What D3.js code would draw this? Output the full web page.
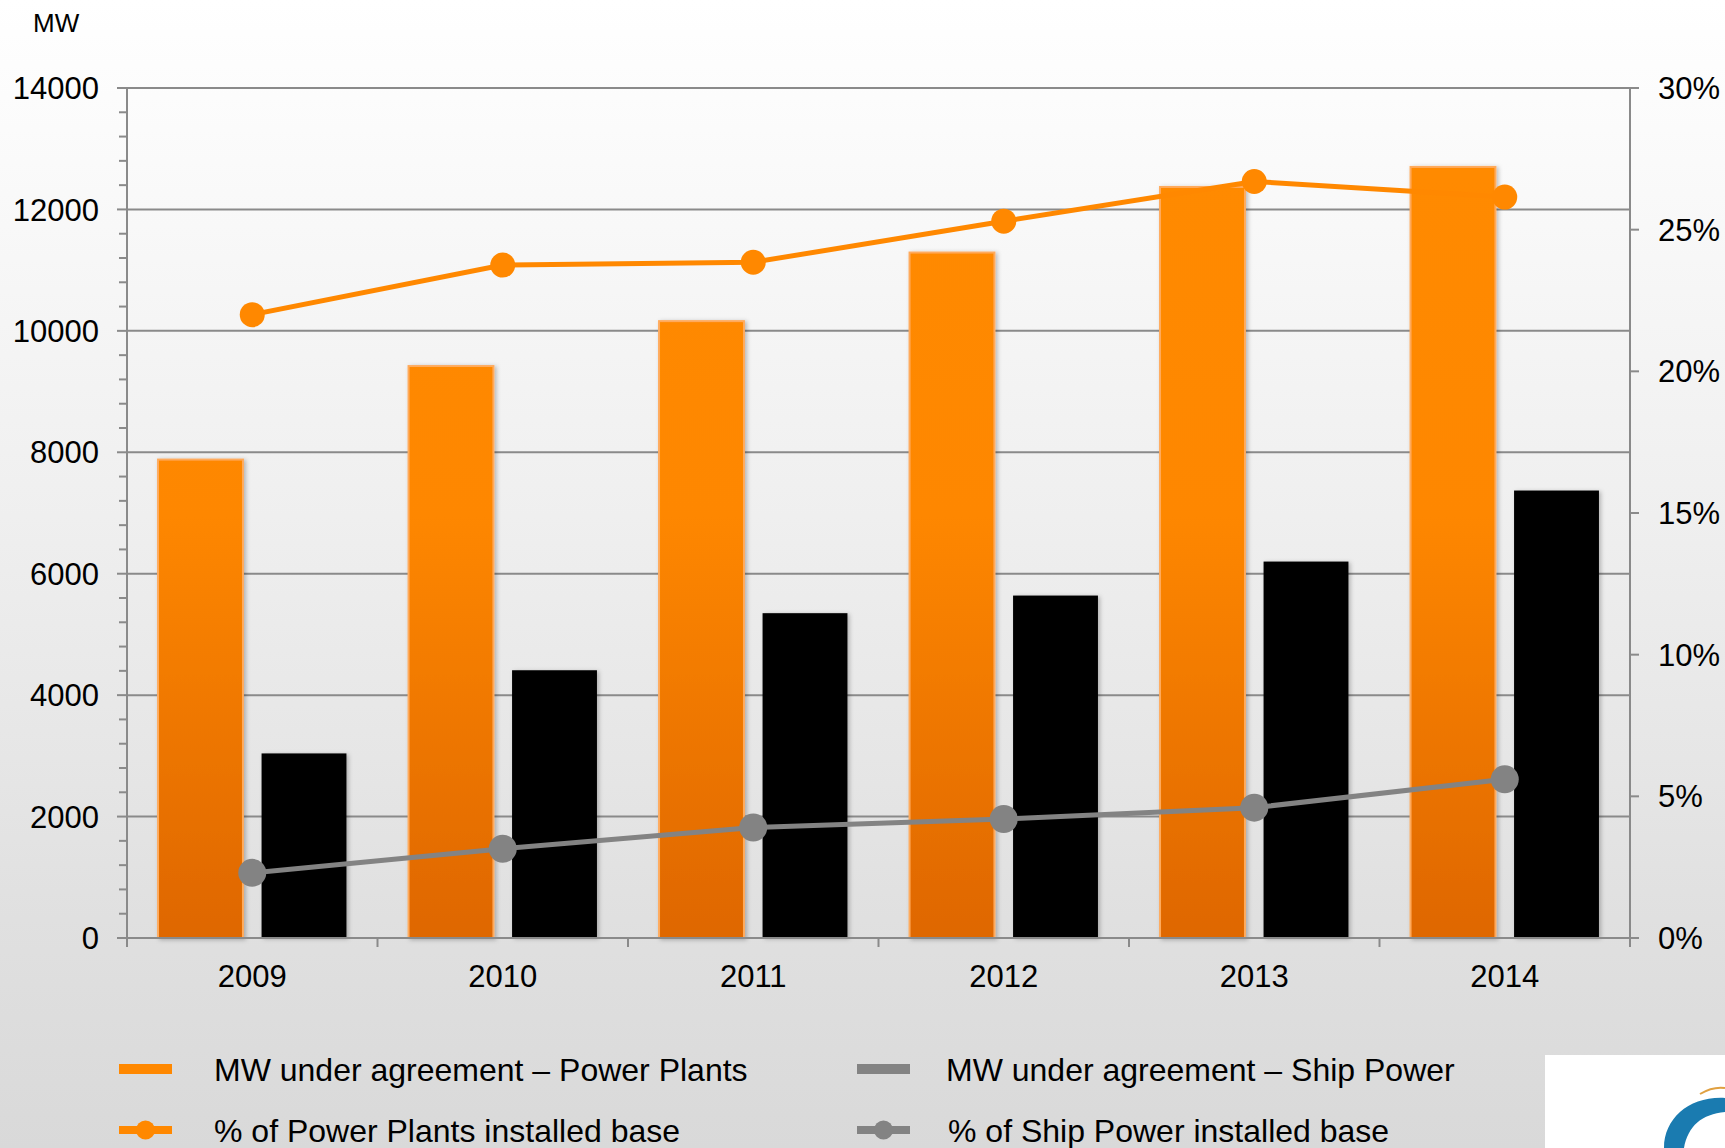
<!DOCTYPE html>
<html>
<head>
<meta charset="utf-8">
<script src="https://cdn.jsdelivr.net/npm/d3@7"></script>
<style>
  body { margin: 0; background: #fff; }
  text { font-family: "Liberation Sans", Arial, sans-serif; fill: #000; }
</style>
</head>
<body>
<div class="graph"></div>
<script>
/*--------------- DATA -------------*/
const years = ["2009", "2010", "2011", "2012", "2013", "2014"];
const mwPowerPlants = [7880, 9420, 10160, 11290, 12370, 12700];
const mwShipPower = [3040, 4410, 5350, 5640, 6200, 7370];
const pctPowerPlants = [22.0, 23.75, 23.85, 25.3, 26.7, 26.15];
const pctShipPower = [2.3, 3.15, 3.9, 4.2, 4.6, 5.6];
const leftTicks = [0, 2000, 4000, 6000, 8000, 10000, 12000, 14000];
const rightTicks = [0, 5, 10, 15, 20, 25, 30];
const legendLabels = ["MW under agreement \u2013 Power Plants", "MW under agreement \u2013 Ship Power",
                      "% of Power Plants installed base", "% of Ship Power installed base"];

/*--------------- D3 STUFF -------------*/

//define dimensions
const SIZE = {X: 1725, Y: 1148};
const MARGIN = {TOP: 88, BOTTOM: 210, LEFT: 127, RIGHT: 95};
const DIM = {WIDTH: SIZE.X - MARGIN.LEFT - MARGIN.RIGHT,
             HEIGHT: SIZE.Y - MARGIN.TOP - MARGIN.BOTTOM};

const ORANGE = "#ff8800";
const GREY = "#838383";
const AXIS = "#8a8a8a";

const svg = d3.select(".graph").append("svg")
    .attr("width", SIZE.X)
    .attr("height", SIZE.Y);

const defs = svg.append("defs");

//page background, white fading to light grey
const bg = defs.append("linearGradient").attr("id", "bg")
    .attr("x1", 0).attr("y1", 0).attr("x2", 0).attr("y2", 1);
bg.append("stop").attr("offset", "0").attr("stop-color", "#ffffff");
bg.append("stop").attr("offset", "0.45").attr("stop-color", "#efefef");
bg.append("stop").attr("offset", "0.8").attr("stop-color", "#e0e0e0");
bg.append("stop").attr("offset", "1").attr("stop-color", "#d9d9d9");

//orange bar fill, darker at the bottom
const og = defs.append("linearGradient").attr("id", "orangeFill")
    .attr("gradientUnits", "userSpaceOnUse")
    .attr("x1", 0).attr("y1", MARGIN.TOP).attr("x2", 0).attr("y2", MARGIN.TOP + DIM.HEIGHT);
og.append("stop").attr("offset", "0").attr("stop-color", "#ff8a00");
og.append("stop").attr("offset", "0.4").attr("stop-color", "#fe8700");
og.append("stop").attr("offset", "1").attr("stop-color", "#d86000");

//soft shadow for the bars
const shadow = defs.append("filter").attr("id", "shadow")
    .attr("x", "-10%").attr("y", "-5%").attr("width", "130%").attr("height", "115%");
shadow.append("feDropShadow")
    .attr("dx", 2).attr("dy", 1)
    .attr("stdDeviation", 2)
    .attr("flood-color", "#000")
    .attr("flood-opacity", 0.25);

svg.append("rect")
    .attr("width", SIZE.X)
    .attr("height", SIZE.Y)
    .attr("fill", "url(#bg)");

const graph = svg.append("g")
    .attr("transform", `translate(${MARGIN.LEFT}, ${MARGIN.TOP})`);

//define scales
const x = d3.scaleBand()
    .domain(years)
    .range([0, DIM.WIDTH]);

const xSub = d3.scaleBand()
    .domain(["pp", "ship"])
    .range([0, x.bandwidth()])
    .paddingInner(0.18)
    .paddingOuter(0.3);

const y = d3.scaleLinear()
    .domain([0, 14000])
    .range([DIM.HEIGHT, 0]);

const y2 = d3.scaleLinear()
    .domain([0, 30])
    .range([DIM.HEIGHT, 0]);

//gridlines
graph.append("g")
    .selectAll("line")
    .data(leftTicks)
    .enter()
        .append("line")
        .attr("x1", 0)
        .attr("x2", DIM.WIDTH)
        .attr("y1", d => y(d))
        .attr("y2", d => y(d))
        .attr("stroke", AXIS)
        .attr("stroke-width", 2);

//bars
const barData = years.map((yr, i) => ({year: yr, pp: mwPowerPlants[i], ship: mwShipPower[i]}));

const groups = graph.append("g")
    .selectAll("g")
    .data(barData)
    .enter()
        .append("g")
        .attr("transform", d => `translate(${x(d.year)}, 0)`);

groups.append("rect")
    .attr("x", xSub("pp"))
    .attr("width", xSub.bandwidth())
    .attr("y", d => y(d.pp))
    .attr("height", d => y(0) - y(d.pp))
    .attr("fill", "url(#orangeFill)")
    .attr("stroke", "#ffaa5c")
    .attr("stroke-width", 2)
    .style("filter", "url(#shadow)");

groups.append("rect")
    .attr("x", xSub("ship"))
    .attr("width", xSub.bandwidth())
    .attr("y", d => y(d.ship))
    .attr("height", d => y(0) - y(d.ship))
    .attr("fill", "#000")
    .style("filter", "url(#shadow)");

//left axis: line, major and minor ticks, labels
const leftAxis = graph.append("g");
leftAxis.append("line")
    .attr("x1", 0).attr("x2", 0)
    .attr("y1", 0).attr("y2", DIM.HEIGHT)
    .attr("stroke", AXIS).attr("stroke-width", 2);
leftAxis.selectAll(".tick")
    .data(d3.range(0, 14001, 400))
    .enter()
        .append("line")
        .attr("x1", d => d % 2000 === 0 ? -10 : -8)
        .attr("x2", 0)
        .attr("y1", d => y(d))
        .attr("y2", d => y(d))
        .attr("stroke", AXIS)
        .attr("stroke-width", 2);
leftAxis.selectAll("text")
    .data(leftTicks)
    .enter()
        .append("text")
        .attr("x", -28)
        .attr("y", d => y(d))
        .attr("dy", "0.36em")
        .attr("text-anchor", "end")
        .attr("font-size", 31)
        .text(d => d);

//right axis
const rightAxis = graph.append("g")
    .attr("transform", `translate(${DIM.WIDTH}, 0)`);
rightAxis.append("line")
    .attr("x1", 0).attr("x2", 0)
    .attr("y1", 0).attr("y2", DIM.HEIGHT)
    .attr("stroke", AXIS).attr("stroke-width", 2);
rightAxis.selectAll(".tick")
    .data(rightTicks)
    .enter()
        .append("line")
        .attr("x1", 0)
        .attr("x2", 9)
        .attr("y1", d => y2(d))
        .attr("y2", d => y2(d))
        .attr("stroke", AXIS)
        .attr("stroke-width", 2);
rightAxis.selectAll("text")
    .data(rightTicks)
    .enter()
        .append("text")
        .attr("x", 28)
        .attr("y", d => y2(d))
        .attr("dy", "0.36em")
        .attr("font-size", 31)
        .text(d => d + "%");

//bottom axis with ticks between the categories
const xAxis = graph.append("g")
    .attr("transform", `translate(0, ${DIM.HEIGHT})`);
xAxis.append("line")
    .attr("x1", 0).attr("x2", DIM.WIDTH)
    .attr("stroke", AXIS).attr("stroke-width", 2);
xAxis.selectAll(".tick")
    .data(years.concat(["end"]))
    .enter()
        .append("line")
        .attr("x1", (d, i) => i * x.step())
        .attr("x2", (d, i) => i * x.step())
        .attr("y1", 0)
        .attr("y2", 9)
        .attr("stroke", AXIS)
        .attr("stroke-width", 2);
xAxis.selectAll("text")
    .data(years)
    .enter()
        .append("text")
        .attr("x", d => x(d) + x.bandwidth() / 2)
        .attr("y", 49)
        .attr("text-anchor", "middle")
        .attr("font-size", 31)
        .text(d => d);

//percentage lines
const cx = d => x(d) + x.bandwidth() / 2;

function drawLine(values, color, r) {
    const pts = years.map((yr, i) => [cx(yr), y2(values[i])]);
    graph.append("path")
        .datum(pts)
        .attr("fill", "none")
        .attr("stroke", color)
        .attr("stroke-width", 5)
        .attr("d", d3.line());
    graph.append("g")
        .selectAll("circle")
        .data(pts)
        .enter()
            .append("circle")
            .attr("cx", d => d[0])
            .attr("cy", d => d[1])
            .attr("r", r)
            .attr("fill", color);
}

drawLine(pctShipPower, GREY, 14);
drawLine(pctPowerPlants, ORANGE, 12.5);

//unit label
svg.append("text")
    .attr("x", 33)
    .attr("y", 32)
    .attr("font-size", 26)
    .text("MW");

/*--------------- LEGEND -------------*/
const legendPos = [
    {x: 119, y: 1069, tx: 95, color: ORANGE, marker: false},
    {x: 857, y: 1069, tx: 89, color: GREY, marker: false},
    {x: 119, y: 1130, tx: 95, color: ORANGE, marker: true},
    {x: 857, y: 1130, tx: 91, color: GREY, marker: true}
];

const legend = svg.append("g")
    .selectAll("g")
    .data(legendLabels)
    .enter()
        .append("g")
        .attr("transform", (d, i) => `translate(${legendPos[i].x}, ${legendPos[i].y})`);

legend.each(function(d, i) {
    const g = d3.select(this);
    const p = legendPos[i];
    if (p.marker) {
        g.append("line")
            .attr("x1", 0).attr("x2", 53)
            .attr("stroke", p.color)
            .attr("stroke-width", 8);
        g.append("circle")
            .attr("cx", 26.5)
            .attr("r", 9.5)
            .attr("fill", p.color);
    } else {
        g.append("rect")
            .attr("x", 0).attr("y", -5)
            .attr("width", 53).attr("height", 10)
            .attr("fill", p.color);
    }
    g.append("text")
        .attr("x", p.tx)
        .attr("dy", "0.36em")
        .attr("font-size", 32)
        .text(d);
});

//corner logo
const logo = svg.append("g");
logo.append("rect")
    .attr("x", 1545).attr("y", 1055)
    .attr("width", 180).attr("height", 93)
    .attr("fill", "#fff");
logo.append("path")
    .attr("d", "M1725,1098 C1690,1096 1664,1118 1664,1148 L1684,1148 C1688,1126 1702,1114 1725,1112 Z")
    .attr("fill", "#1a7bb0");
logo.append("path")
    .attr("d", "M1700,1094 C1710,1088 1718,1087 1725,1088")
    .attr("fill", "none")
    .attr("stroke", "#e0a040")
    .attr("stroke-width", 2);
</script>
</body>
</html>
